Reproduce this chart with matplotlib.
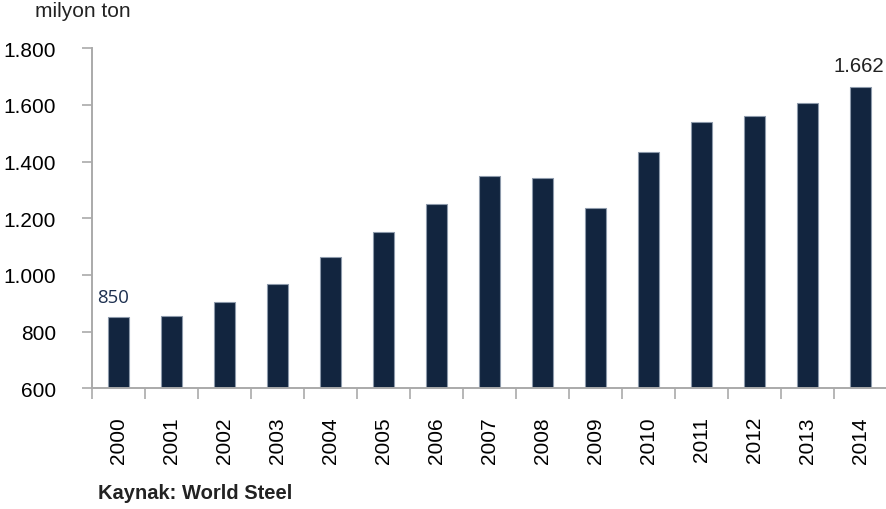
import matplotlib
matplotlib.use("Agg")
import matplotlib.pyplot as plt

# Dunya ham celik uretimi (milyon ton)
years = ['2000', '2001', '2002', '2003', '2004', '2005', '2006', '2007',
         '2008', '2009', '2010', '2011', '2012', '2013', '2014']
production = [850, 854, 904, 968, 1062, 1150, 1249, 1348,
              1341, 1237, 1435, 1539, 1561, 1606, 1662]
ytick_values = [600, 800, 1000, 1200, 1400, 1600, 1800]
ytick_labels = ['600', '800', '1.000', '1.200', '1.400', '1.600', '1.800']

plt.rcParams['font.family'] = ['Liberation Sans', 'DejaVu Sans']

bar_color = '#12253f'
axis_color = '#aaaaaa'

fig = plt.figure(figsize=(8.87, 5.10), dpi=100)
ax = fig.add_axes([92 / 887, 120.7 / 510, 1 - 92 / 887, 340 / 510])

x = list(range(len(years)))
ax.bar(x, production, width=0.41, color=bar_color, edgecolor='#8d9aab',
       linewidth=0.8, zorder=2)

ax.set_ylim(600, 1800)
ax.set_xlim(-0.5, 14.43)
ax.set_yticks(ytick_values)
ax.set_yticklabels(ytick_labels)

# x ticks sit on category boundaries, labels under bar centres
ax.set_xticks([i - 0.5 for i in range(len(years) + 1)])
ax.set_xticklabels([])
ax.set_xticks(x, minor=True)
ax.set_xticklabels(years, minor=True, rotation=90, fontsize=15,
                   va='top', ha='center')
ax.tick_params(axis='x', which='minor', length=0, pad=20)
ax.tick_params(axis='x', which='major', length=8, width=1.2, color=axis_color)
ax.tick_params(axis='y', length=7, width=1.2, color=axis_color,
               labelsize=15, pad=19)

for side in ['top', 'right']:
    ax.spines[side].set_visible(False)
for side in ['left', 'bottom']:
    ax.spines[side].set_color(axis_color)
    ax.spines[side].set_linewidth(1.4)

# value labels on first and last bar
ax.annotate('850', xy=(x[0], production[0]), xytext=(-3.6, 10.8),
            textcoords='offset points', ha='center', va='baseline',
            fontsize=13.4, color='#1c2f4f', family=['Open Sans', 'DejaVu Sans'])
ax.annotate('1.662', xy=(x[-1], production[-1]), xytext=(-1.2, 12),
            textcoords='offset points', ha='center', va='baseline',
            fontsize=14.7, color='#222222')

fig.text(35 / 887, 1 - 17 / 510, 'milyon ton', fontsize=15, color='#222222',
         va='baseline', ha='left')
fig.text(98 / 887, 1 - 499 / 510, 'Kaynak: World Steel', fontsize=14.5,
         fontweight='bold', color='#222222', va='baseline', ha='left')

fig.savefig('out.png', dpi=100)
